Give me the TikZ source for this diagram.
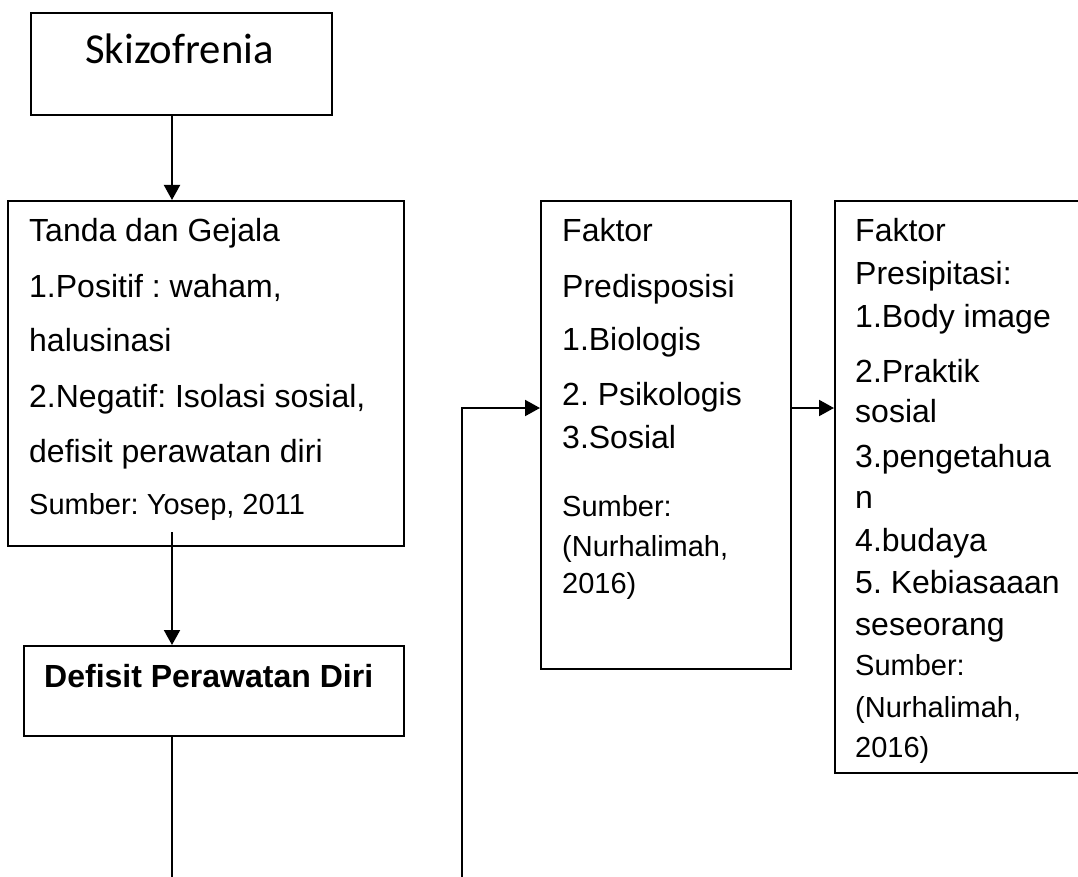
\documentclass[tikz,border=0pt]{standalone}
\usepackage{fontspec}
\setmainfont{Liberation Sans}
\newfontfamily\calibfont{Carlito}
\usetikzlibrary{arrows.meta}
\frenchspacing
\begin{document}
\begin{tikzpicture}[x=1pt,y=-1pt,
  box/.style={draw, line width=2pt, inner sep=0pt},
  conn/.style={line width=2pt},
  arr/.style={line width=2pt, -{Triangle[length=15pt,width=16pt]}},
  txt/.style={anchor=base west, inner sep=0pt, font=\frenchspacing\fontsize{32}{38}\selectfont},
  src/.style={anchor=base west, inner sep=0pt, font=\frenchspacing\fontsize{29}{34}\selectfont},
  bld/.style={anchor=base west, inner sep=0pt, font=\frenchspacing\fontsize{32}{38}\selectfont\bfseries},
  big/.style={anchor=base west, inner sep=0pt, font=\fontsize{42.7}{50}\selectfont\calibfont}]
\clip (0,0) rectangle (1078,877);
\fill[white] (0,0) rectangle (1078,877);

% boxes
\node[box, minimum width=301pt, minimum height=102pt] (skz) at (181.5,64) {};
\node[box, minimum width=396pt, minimum height=345pt] (tanda) at (206,373.5) {};
\node[box, minimum width=380pt, minimum height=90pt] (defisit) at (214,691) {};
\node[box, minimum width=250pt, minimum height=468pt] (pred) at (666,435) {};
\node[box, minimum width=255pt, minimum height=572pt] (presip) at (962.5,487) {};

% texts
\node[big] (tskz) at (85,64) {Skizofrenia};

\node[txt] (ta1) at (29,242) {Tanda dan Gejala};
\node[txt] (ta2) at (29,297) {1.Positif : waham,};
\node[txt] (ta3) at (29,351) {halusinasi};
\node[txt] (ta4) at (29,407) {2.Negatif: Isolasi sosial,};
\node[txt] (ta5) at (29,462) {defisit perawatan diri};
\node[src] (ta6) at (29,514) {Sumber: Yosep, 2011};

\node[bld] (tdef) at (44,687) {Defisit Perawatan Diri};

\node[txt] (pr1) at (562,242) {Faktor};
\node[txt] (pr2) at (562,297) {Predisposisi};
\node[txt] (pr3) at (562,350) {1.Biologis};
\node[txt] (pr4) at (562,405) {2. Psikologis};
\node[txt] (pr5) at (562,448) {3.Sosial};
\node[src] (pr6) at (562,516) {Sumber:};
\node[src] (pr7) at (562,556) {(Nurhalimah,};
\node[src] (pr8) at (562,593) {2016)};

\node[txt] (ps1) at (855,242) {Faktor};
\node[txt] (ps2) at (855,284) {Presipitasi:};
\node[txt] (ps3) at (855,327) {1.Body image};
\node[txt] (ps4) at (855,382) {2.Praktik};
\node[txt] (ps5) at (855,422) {sosial};
\node[txt] (ps6) at (855,467) {3.pengetahua};
\node[txt] (ps7) at (855,508) {n};
\node[txt] (ps8) at (855,551) {4.budaya};
\node[txt] (ps9) at (855,593) {5. Kebiasaaan};
\node[txt] (ps10) at (855,635) {seseorang};
\node[src] (ps11) at (855,675) {Sumber:};
\node[src] (ps12) at (855,717) {(Nurhalimah,};
\node[src] (ps13) at (855,757) {2016)};

% helper coordinates
\coordinate (cx) at (172,0);
\coordinate (cy) at (0,408);
\coordinate (endl) at (172,877);
\coordinate (startv) at (462,877);
\path (tanda.south -| cx) ++(0,-15) coordinate (s2);

% connectors
\draw[arr] (skz.south -| cx) -- (tanda.north -| cx);
\draw[arr] (s2) -- (defisit.north -| cx);
\draw[conn] (defisit.south -| cx) -- (endl);
\draw[arr] (startv) |- (pred.west |- cy);
\draw[arr] (pred.east |- cy) -- (presip.west |- cy);
\end{tikzpicture}
\end{document}
